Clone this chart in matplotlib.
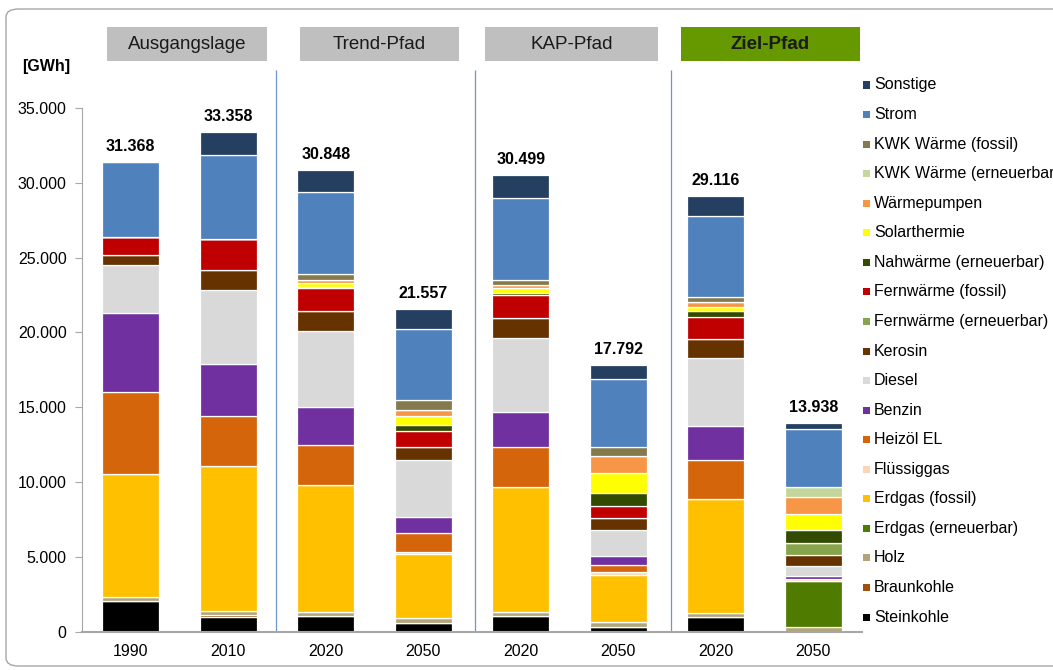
import numpy as np
import matplotlib.pyplot as plt
from matplotlib.patches import Rectangle, FancyBboxPatch
from matplotlib.ticker import FuncFormatter

plt.rcParams['font.family'] = ['Liberation Sans', 'DejaVu Sans']

# x axis: two years per scenario
years = ['1990', '2010', '2020', '2050', '2020', '2050', '2020', '2050']
groups = ['Ausgangslage', 'Trend-Pfad', 'KAP-Pfad', 'Ziel-Pfad']
totals = [31368, 33358, 30848, 21557, 30499, 17792, 29116, 13938]

# energy carriers, stacked bottom to top [GWh]
carriers = ['Steinkohle', 'Braunkohle', 'Holz', 'Erdgas (erneuerbar)', 'Erdgas (fossil)',
            'Flüssiggas', 'Heizöl EL', 'Benzin', 'Diesel', 'Kerosin',
            'Fernwärme (erneuerbar)', 'Fernwärme (fossil)', 'Nahwärme (erneuerbar)',
            'Solarthermie', 'Wärmepumpen', 'KWK Wärme (erneuerbar)', 'KWK Wärme (fossil)',
            'Strom', 'Sonstige']

steinkohle = [2060, 990, 1040, 600, 1040, 320, 980, 0]
braunkohle = [0, 170, 0, 0, 0, 0, 0, 0]
holz = [280, 270, 300, 330, 290, 370, 280, 310]
erdgas_ern = [0, 0, 0, 0, 0, 0, 0, 3110]
erdgas_fos = [8210, 9670, 8480, 4300, 8320, 3100, 7610, 0]
fluessiggas = [0, 0, 0, 100, 0, 240, 0, 140]
heizoel = [5450, 3290, 2680, 1270, 2670, 450, 2640, 0]
benzin = [5270, 3490, 2490, 1070, 2360, 610, 2210, 160]
diesel = [3200, 4930, 5080, 3830, 4920, 1700, 4570, 700]
kerosin = [670, 1370, 1350, 820, 1350, 810, 1280, 710]
fernw_ern = [0, 0, 0, 0, 0, 0, 0, 800]
fernw_fos = [1210, 2050, 1570, 1130, 1530, 780, 1470, 0]
nahwaerme = [0, 0, 70, 400, 160, 890, 360, 850]
solar = [0, 0, 270, 600, 320, 1330, 310, 1130]
waermepumpen = [0, 0, 140, 400, 190, 1140, 290, 1070]
kwk_ern = [0, 0, 0, 0, 0, 0, 0, 670]
kwk_fos = [0, 0, 460, 650, 370, 620, 380, 0]
strom = [5018, 5640, 5430, 4710, 5480, 4550, 5420, 3880]
sonstige = [0, 1488, 1488, 1347, 1499, 882, 1316, 408]

colors = ['#000000', '#A0500F', '#B1A57A', '#4E7B00', '#FFC000',
          '#FBD5B5', '#D5650B', '#7030A0', '#D9D9D9', '#663300',
          '#86A44A', '#C00000', '#324B00',
          '#FFFF00', '#F79646', '#C3D69B', '#847A4E',
          '#4F81BD', '#243F60']

W, H = 1053, 670


def fx(px):
    return px / W


def fy(py):
    return 1 - py / H


def main():
    series = [steinkohle, braunkohle, holz, erdgas_ern, erdgas_fos, fluessiggas, heizoel,
              benzin, diesel, kerosin, fernw_ern, fernw_fos, nahwaerme, solar,
              waermepumpen, kwk_ern, kwk_fos, strom, sonstige]

    fig = plt.figure(figsize=(W / 100, H / 100), dpi=100)
    ax = fig.add_axes([fx(82), fy(632), fx(862) - fx(82), fy(107.7) - fy(632)])

    # rounded frame round the whole chart, open to the right
    frame = FancyBboxPatch((fx(6), fy(666)), fx(1120) - fx(6), fy(9) - fy(666),
                           boxstyle='round,pad=0,rounding_size=0.012',
                           transform=fig.transFigure, facecolor='none',
                           edgecolor='#A6A6A6', linewidth=1.0, zorder=0)
    fig.add_artist(frame)

    x = np.arange(len(years))
    bottom = np.zeros(len(years))
    for vals, col in zip(series, colors):
        vals = np.array(vals, dtype=float)
        ax.bar(x, vals, bottom=bottom, width=0.585, color=col,
               edgecolor='white', linewidth=0.9, zorder=2)
        bottom += vals

    # totals above each bar
    for xi, tot in zip(x, totals):
        ax.annotate(f'{tot:,}'.replace(',', '.'), (xi, tot), xytext=(0, 6),
                    textcoords='offset points', ha='center', va='bottom',
                    fontsize=11.5, fontweight='bold', clip_on=False)

    ax.set_xlim(-0.5, len(years) - 0.5)
    ax.set_ylim(0, 35000)
    ax.set_yticks(np.arange(0, 35001, 5000))
    ax.yaxis.set_major_formatter(FuncFormatter(lambda v, p: f'{int(v):,}'.replace(',', '.')))
    ax.set_xticks(x)
    ax.set_xticklabels(years)
    ax.tick_params(axis='y', length=5, color='#A6A6A6', labelsize=11.5, pad=6)
    ax.tick_params(axis='x', length=0, labelsize=11.5, pad=9)
    for side in ['top', 'right']:
        ax.spines[side].set_visible(False)
    ax.spines['left'].set_color('#A6A6A6')
    ax.spines['bottom'].set_color('#A6A6A6')
    ax.spines['bottom'].set_linewidth(1.5)

    # scenario separators
    top_val = (632 - 70) / (632 - 107.7) * 35000
    ax.vlines([1.49, 3.53, 5.54], 0, top_val, colors='#6F97CC', linewidth=0.9,
              clip_on=False, zorder=1)

    fig.text(fx(46), fy(67), '[GWh]', ha='center', va='center', fontsize=11.5, fontweight='bold')

    # scenario header boxes
    boxes = [(107, 267), (300, 459), (485, 658), (681, 860)]
    for (x0, x1), name in zip(boxes, groups):
        is_goal = name == 'Ziel-Pfad'
        fig.add_artist(Rectangle((fx(x0), fy(61)), fx(x1) - fx(x0), fy(27) - fy(61),
                                 transform=fig.transFigure,
                                 facecolor='#669900' if is_goal else '#BFBFBF',
                                 edgecolor='none'))
        fig.text(fx((x0 + x1) / 2), fy(44.5), name, ha='center', va='center',
                 fontsize=13.5, fontweight='bold' if is_goal else 'normal', color='#1A1A1A')

    # legend, top entry first
    step = (617 - 85) / (len(carriers) - 1)
    for i, (name, col) in enumerate(zip(carriers[::-1], colors[::-1])):
        yc = 85 + i * step
        fig.add_artist(Rectangle((fx(863), fy(yc + 3.5)), fx(7), 7 / H,
                                 transform=fig.transFigure, facecolor=col, edgecolor='none'))
        fig.text(fx(874), fy(yc), name, ha='left', va='center', fontsize=11.5)

    fig.savefig('out.png', dpi=100)


if __name__ == '__main__':
    main()
